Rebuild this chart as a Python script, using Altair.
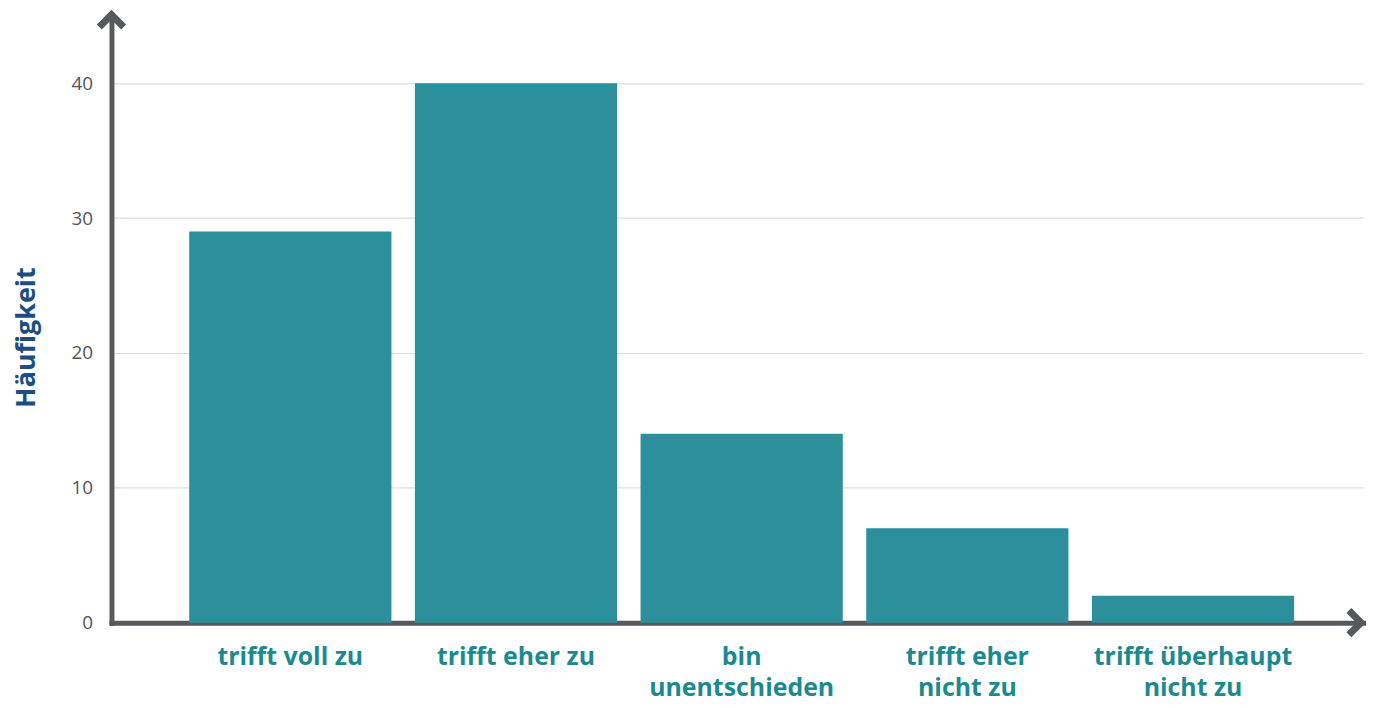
import altair as alt
import pandas as pd

categories = ["trifft voll zu", "trifft eher zu", "bin\nunentschieden",
              "trifft eher\nnicht zu", "trifft überhaupt\nnicht zu"]
counts = [29, 40, 14, 7, 2]
y_ticks = [0, 10, 20, 30, 40]
y_max = 45

df = pd.DataFrame({"kategorie": categories, "haeufigkeit": counts})

AXIS_COL = "#565a5f"
BAR_COL = "#2b8f9c"
LABEL_COL = "#1b8a8f"
TITLE_COL = "#1c4e80"

W, H = 1258, 610

bars = alt.Chart(df).mark_bar(color=BAR_COL).encode(
    x=alt.X("kategorie:N", sort=categories,
            scale=alt.Scale(paddingInner=0.104, paddingOuter=0.325, align=0.53),
            axis=alt.Axis(title=None, labelAngle=0, labelExpr="split(datum.label, '\\n')",
                          labelFont="Open Sans", labelFontSize=25, labelFontWeight="bold",
                          labelColor=LABEL_COL, labelPadding=22, labelLineHeight=31,
                          labelBaseline="top", labelLimit=0,
                          ticks=False, domainColor=AXIS_COL, domainWidth=5,
                          domainCap="square", grid=False)),
    y=alt.Y("haeufigkeit:Q", scale=alt.Scale(domain=[0, y_max], nice=False),
            axis=alt.Axis(title="Häufigkeit", values=y_ticks, ticks=False,
                          labelFont="Open Sans", labelFontSize=19, labelColor="#555555",
                          labelPadding=19, domainColor=AXIS_COL, domainWidth=5,
                          domainCap="square", gridColor="#dedede", gridWidth=1.2,
                          titleFont="Open Sans", titleFontSize=27, titleFontWeight="bold",
                          titleColor=TITLE_COL, titleAngle=270, titleAlign="center",
                          titleBaseline="middle", titleX=-85, titleY=323)),
)

arrow_df = pd.DataFrame({"a": [0]})

up_arrow = alt.Chart(arrow_df).mark_point(
    shape="M-1,1L0,0L1,1", filled=False, stroke=AXIS_COL, strokeWidth=7,
    size=600, strokeJoin="miter", strokeCap="butt", opacity=1, yOffset=-1
).encode(x=alt.value(0), y=alt.datum(y_max))

right_arrow = alt.Chart(arrow_df).mark_point(
    shape="M-1,-1L0,0L-1,1", filled=False, stroke=AXIS_COL, strokeWidth=7,
    size=600, strokeJoin="miter", strokeCap="butt", opacity=1, xOffset=-2
).encode(x=alt.value(W), y=alt.datum(0))

chart = alt.layer(bars, up_arrow, right_arrow).properties(
    width=W, height=H,
    autosize=alt.AutoSizeParams(type="none"),
    padding={"left": 104, "top": 6, "right": 10, "bottom": 84},
    background="white",
).configure_view(stroke=None)

chart.save("out.html", embed_options={"renderer": "svg", "actions": False})
